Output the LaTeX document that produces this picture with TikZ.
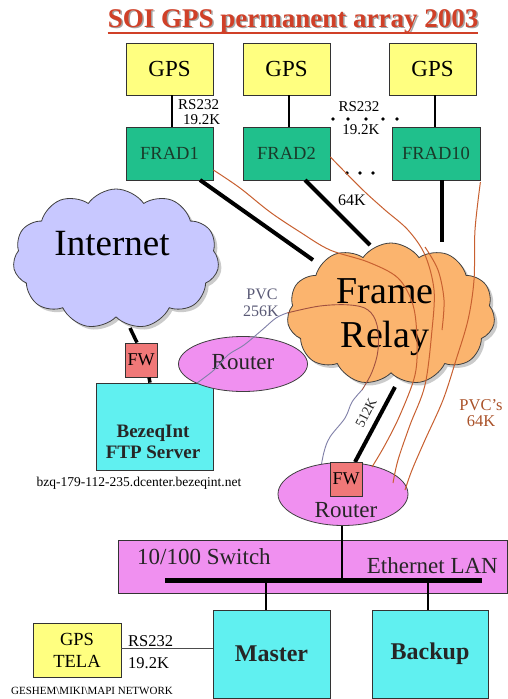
\documentclass[tikz,border=0pt]{standalone}
\usepackage{fontspec}
\setmainfont{Liberation Serif}
\usetikzlibrary{shapes.symbols,shapes.geometric,shadows}
\definecolor{gpsyel}{HTML}{FFFF80}
\definecolor{fradgr}{HTML}{20C08C}
\definecolor{inetcl}{HTML}{C8C8FF}
\definecolor{frcl}{HTML}{FBB46E}
\definecolor{routerc}{HTML}{F090F0}
\definecolor{fwred}{HTML}{F07878}
\definecolor{servcy}{HTML}{60F0F0}
\definecolor{pvcor}{HTML}{C86030}
\definecolor{pvcbl}{HTML}{8080A8}
\definecolor{pvcbr}{HTML}{A05040}
\definecolor{titlered}{HTML}{D04028}
\definecolor{fradtxt}{HTML}{1A3A2A}
\begin{document}
\begin{tikzpicture}[x=1pt,y=-1pt,
  box/.style={draw=black!80, line width=0.8pt, inner sep=0pt, align=center},
  gpsbox/.style={box, fill=gpsyel, minimum width=87pt, minimum height=52pt, font=\fontsize{23}{25}\selectfont},
  fradbox/.style={box, fill=fradgr, minimum height=53pt, text=fradtxt, font=\fontsize{18.5}{20}\selectfont},
  fwbox/.style={box, fill=fwred, minimum width=32pt, minimum height=34pt, font=\fontsize{18}{20}\selectfont},
  srvbox/.style={box, fill=servcy, font=\bfseries\fontsize{24}{26}\selectfont},
  cloudn/.style={cloud, draw=black!75, line width=0.8pt, cloud puffs=11, cloud puff arc=110, aspect=1.5, inner sep=0pt,
     drop shadow={shadow xshift=3pt, shadow yshift=-3pt, fill=black!40}},
  routern/.style={ellipse, draw=black!75, line width=0.8pt, fill=routerc, inner sep=0pt, font=\fontsize{23}{25}\selectfont},
  thick link/.style={line width=4pt, black},
  thin link/.style={line width=1.2pt, black},
  pvco/.style={draw=pvcor, line width=1pt},
  lbl/.style={inner sep=0pt, align=center, font=\fontsize{15}{16}\selectfont},
  dot/.style={circle, fill=black, inner sep=0pt, minimum size=3.6pt}
]
\useasboundingbox (0,0) rectangle (507,699);
\fill[white] (0,0) rectangle (507,699);

% title
\node[inner sep=0pt, text=black!35, font=\bfseries\fontsize{27}{29}\selectfont] at (294.5,22.5) {SOI GPS permanent array 2003};
\node (title) [inner sep=0pt, text=titlered, font=\bfseries\fontsize{27}{29}\selectfont] at (293,21) {SOI GPS permanent array 2003};
\draw[titlered, line width=1.6pt] (title.south west |- 0,33) -- (title.south east |- 0,33);

% GPS and FRAD boxes
\node (gps1) [gpsbox] at (169.5,69) {GPS};
\node (gps2) [gpsbox] at (286.5,69) {GPS};
\node (gps3) [gpsbox] at (432.5,69) {GPS};
\node (frad1) [fradbox, minimum width=87pt] at (169.5,153.5) {FRAD1};
\node (frad2) [fradbox, minimum width=87pt] at (286.5,153.5) {FRAD2};
\node (frad10) [fradbox, minimum width=88pt] at (436,153.5) {FRAD10};

\draw[thin link] (gps1.south -| 172,0) -- (frad1.north -| 172,0);
\draw[thin link] (gps2.south -| 289,0) -- (frad2.north -| 289,0);
\draw[thin link] (gps3.south -| 435,0) -- (frad10.north -| 435,0);

\node[lbl, anchor=west] at (178,105) {RS232};
\node[lbl, anchor=west] at (183,120) {19.2K};
\node[lbl] at (359,107) {RS232};
\node[lbl] at (361,130) {19.2K};
\foreach \i/\xx in {a/333,b/348,c/366,d/383,e/397} \node (da\i) [dot] at (\xx,119) {};
\foreach \i/\xx in {a/347,b/360,c/373} \node (db\i) [dot] at (\xx,173) {};
\node[lbl, font=\fontsize{16}{17}\selectfont] at (352,200) {64K};

% clouds
\node (inet) [cloudn, fill=inetcl, minimum width=206pt, minimum height=140pt] at (116,259) {};
\node at (112,244) [font=\fontsize{37}{40}\selectfont] {Internet};
\node (fr) [cloudn, fill=frcl, minimum width=208pt, minimum height=142pt] at (391,314) {};

% thick links to frame relay
\coordinate (fr1) at (313,260);
\coordinate (fr2) at (370,245);
\coordinate (fr3) at (442,242);
\draw[thick link] (200,180) -- (fr1);
\draw[thick link] (305,180) -- (fr2);
\draw[thick link] (frad10.south -| 442,0) -- (fr3);

% left side: Internet, FW, FTP server
\node (fw1) [fwbox] at (141,360) {FW};
\node (ftp) [srvbox, fill=servcy, minimum width=117pt, minimum height=87pt] at (154.5,426.5) {};
\node at (153,442) [align=center, font=\bfseries\fontsize{19}{21}\selectfont, text=black!85] {BezeqInt\\FTP Server};
\draw[line width=3.5pt] (130,328) -- (fw1.north -| 137,0);
\draw[line width=3.5pt] (fw1.south -| 149,0) -- (ftp.north -| 150,0);
\node[inner sep=0pt, font=\fontsize{13.5}{15}\selectfont] at (139,483) {bzq-179-112-235.dcenter.bezeqint.net};

% upper router
\node (r1) [routern, minimum width=129pt, minimum height=55pt] at (243,364) {};
\node at (243,362) [font=\fontsize{23}{25}\selectfont, text=black!85] {Router};

% frame relay text
\node at (385,291) [font=\fontsize{38}{40}\selectfont] {Frame};
\node at (385,338) [font=\fontsize{38}{40}\selectfont] {Relay};

% PVC 256K / 512K path
\coordinate (p256) at (287,313);
\coordinate (pcl) at (362,390);
\draw[pvcbl, line width=0.9pt] plot[smooth, tension=0.6] coordinates {(197,383) (214,370) (228,355) (244,345) (262,330) (276,318) (p256)};
\draw[pvcbr, line width=0.9pt] plot[smooth, tension=0.6] coordinates {(p256) (320,306) (350,305) (368,310) (377,325) (378,350) (372,372) (pcl)};
\draw[pvcbl, line width=0.9pt] plot[smooth, tension=0.6] coordinates {(pcl) (352,402) (345,418) (330,437) (324,452) (320,473)};
\node[lbl, text=pvcbl!70!black, font=\fontsize{16}{16}\selectfont] at (262,294) {PVC};
\node[lbl, text=pvcbl!70!black, font=\fontsize{16}{16}\selectfont] at (261,311) {256K};

% lower router with FW
\node (r2) [routern, minimum width=130pt, minimum height=63pt] at (343,494) {};
\node at (346,510) [font=\fontsize{23}{25}\selectfont, text=black!85] {Router};
\draw[thick link] (355,462) -- (395,387);
\node[lbl, rotate=63, text=black!85, font=\fontsize{14}{15}\selectfont] at (366,413) {512K};

% orange PVC lines
\draw[pvco] plot[smooth, tension=0.55] coordinates {(frad1.east |- 0,170) (240,188) (270,212) (300,232) (330,250) (368,262) (398,278) (413,305) (417,340) (415,375) (400,415) (385,445) (372,467)};
\draw[pvco] plot[smooth, tension=0.55] coordinates {(frad2.east |- 0,157) (345,172) (365,192) (385,210) (408,230) (425,255) (434,290) (432,330) (425,385) (410,425) (398,460) (393,483)};
\draw[pvco] plot[smooth, tension=0.55] coordinates {(frad10.east |- 0,182) (475,230) (474,280) (468,320) (456,360) (443,400) (425,440) (412,470) (405,490)};
\draw[pvco] plot[smooth, tension=0.55] coordinates {(425,247) (438,270) (444,300) (442,330)};

\node (fw2) [fwbox] at (346,479) {FW};

\node[lbl, text=pvcor!85!black, font=\fontsize{16.5}{17}\selectfont] at (481,405) {PVC's};
\node[lbl, text=pvcor!85!black, font=\fontsize{16.5}{17}\selectfont] at (481,421) {64K};

% switch
\node (sw) [box, fill=routerc, minimum width=389pt, minimum height=53pt] at (312.5,566.5) {};
\node[inner sep=0pt, anchor=west, font=\fontsize{23}{25}\selectfont, text=black!85] at (137,557) {10/100 Switch};
\node[inner sep=0pt, anchor=east, font=\fontsize{23}{25}\selectfont, text=black!85] at (498,566) {Ethernet LAN};
\coordinate (busl) at (165,580);
\coordinate (busr) at (482,580);
\draw[line width=5pt] (busl) -- (busr);
\draw[thin link] (r2.south -| 342,0) -- (342,580);

% master, backup
\node (master) [srvbox, minimum width=117pt, minimum height=88pt, text=black!85] at (271.5,654) {Master};
\node (backup) [srvbox, minimum width=116pt, minimum height=88pt, text=black!85] at (430,654) {Backup};
\draw[thin link] (266,580) -- (master.north -| 266,0);
\draw[thin link] (428,580) -- (backup.north -| 428,0);

% GPS TELA
\node (tela) [box, fill=gpsyel, minimum width=88pt, minimum height=54pt, font=\fontsize{18.5}{22}\selectfont] at (77,650) {GPS\\TELA};
\draw[black!70, line width=1pt] (tela.east |- 0,648) -- (master.west |- 0,648);
\node[lbl, anchor=west, font=\fontsize{16.5}{17}\selectfont] at (128,641) {RS232};
\node[lbl, anchor=west, font=\fontsize{16.5}{17}\selectfont] at (128,663) {19.2K};
\node[inner sep=0pt, anchor=west, font=\fontsize{11}{12}\selectfont] at (11,691) {GESHEM\textbackslash MIKI\textbackslash MAPI NETWORK};
\end{tikzpicture}
\end{document}
